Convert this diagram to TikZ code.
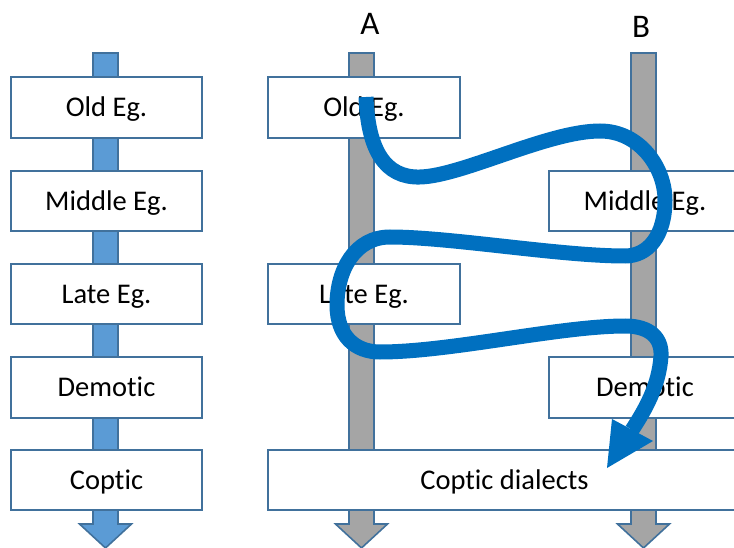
\documentclass[tikz,border=0pt]{standalone}
\usepackage{fontspec}
\setmainfont[Ligatures={NoCommon}]{Carlito}
\definecolor{bord}{HTML}{41719C}
\definecolor{barblue}{HTML}{5B9BD5}
\definecolor{bargray}{HTML}{A5A5A5}
\definecolor{flowblue}{HTML}{0070C0}
\begin{document}
\begin{tikzpicture}[x=1pt,y=-1pt,
  box/.style={draw=bord, line width=2pt, fill=white, minimum height=60.5pt,
    text height=18.4pt, text depth=0pt, inner sep=0pt,
    font=\fontsize{28.5}{34}\selectfont},
  lbox/.style={box, minimum width=191pt},
  abox/.style={box, minimum width=192pt},
  lab/.style={inner sep=0pt, font=\fontsize{33}{38}\selectfont},
  barstyle/.style={draw=bord, line width=1.6pt, line join=miter},
  flow/.style={draw=flowblue, line width=15pt, line cap=butt}]
\useasboundingbox (0,0) rectangle (734,548);
\clip (0,0) rectangle (734,548);
% bars with arrow heads
\foreach \cx/\col in {105.5/barblue, 361.5/bargray, 643.5/bargray}{
  \filldraw[barstyle, fill=\col] (\cx-12.5,53) -- (\cx+12.5,53) -- (\cx+12.5,524)
    -- (\cx+26,524) -- (\cx,548) -- (\cx-26,524) -- (\cx-12.5,524) -- cycle;
}
% left column
\node[lbox] (l1) at (106.5,107.5) {Old Eg.};
\node[lbox] (l2) at (106.5,201) {Middle Eg.};
\node[lbox] (l3) at (106.5,294) {Late Eg.};
\node[lbox] (l4) at (106.5,387.5) {Demotic};
\node[lbox] (l5) at (106.5,480) {Coptic};
% column A
\node[abox] (a1) at (364,107.5) {Old Eg.};
\node[abox] (a3) at (364,294) {Late Eg.};
% column B
\node[abox] (b2) at (645,201) {Middle Eg.};
\node[abox] (b4) at (645,387.5) {Demotic};
% Coptic dialects
\node[box, minimum width=473pt] (cd) at (504.5,480) {Coptic dialects};
% labels
\node[lab] (A) at (370,23.5) {A};
\node[lab] (B) at (641,26.5) {B};
% flow curve
\coordinate (fs) at (366,97);
\coordinate (fe) at (632,430);
\coordinate (tipL) at (612,419);
\coordinate (tipR) at (653,441);
\coordinate (tip) at (607,468);
\draw[flow] (fs)
  .. controls (368,150) and (385,178) .. (420,177)
  .. controls (462,176) and (548,131) .. (600,131)
  .. controls (640,131) and (665,168) .. (665,200)
  .. controls (665,236) and (648,256) .. (625,256)
  .. controls (560,256) and (450,237) .. (390,237)
  .. controls (355,237) and (337,270) .. (337,305)
  .. controls (337,336) and (355,352) .. (380,352)
  .. controls (450,352) and (560,326) .. (625,326)
  .. controls (650,326) and (662,338) .. (661,356)
  .. controls (659,386) and (645,410) .. (fe);
\fill[flowblue] (tipL) -- (tip) -- (tipR) -- cycle;
\end{tikzpicture}
\end{document}
